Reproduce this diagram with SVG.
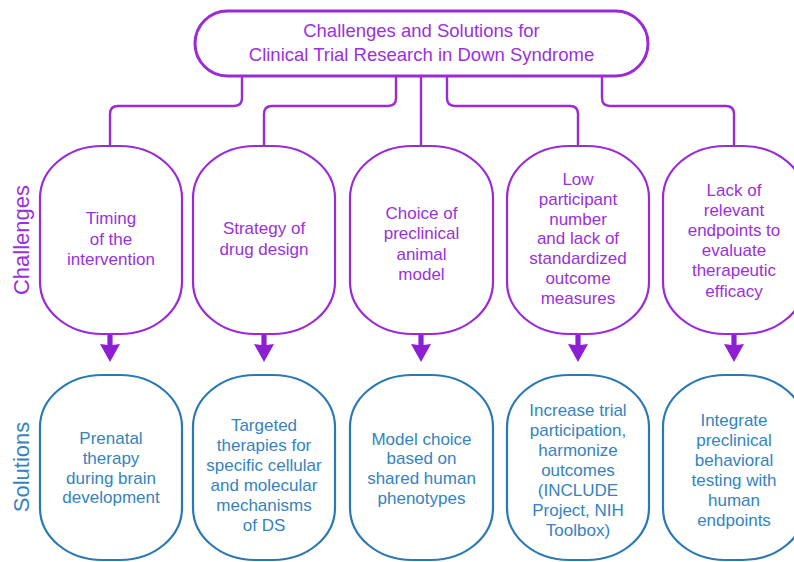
<svg xmlns="http://www.w3.org/2000/svg" width="794" height="562" viewBox="0 0 794 562">
<style>
.bg{fill:#ffffff}
.ch{fill:#ffffff;stroke:#9a2ad8;stroke-width:2.2}
.so{fill:#ffffff;stroke:#2a79b5;stroke-width:2.2}
.ttl{fill:#ffffff;stroke:#9a2ad8;stroke-width:3}
.conn{fill:none;stroke:#9a2ad8;stroke-width:2.4}
.arr{fill:#8c1fd1}
text{font-family:"Liberation Sans",Arial,Helvetica,sans-serif;text-anchor:middle}
.tc{fill:#9b30dc;font-size:17px}
.ts{fill:#3583c0;font-size:17px}
.tt{fill:#9b30dc;font-size:18.5px}
.lab{font-size:22px}
</style>
<defs>
<path id="arrow" d="M-2.6,0 H2.6 V12 L10,11 L0,29 L-10,11 L-2.6,12 Z"/>
</defs>
<rect class="bg" x="0" y="0" width="794" height="562"/>

<g id="connectors">
<path class="conn" d="M242,76 V98 Q242,106 234,106 H118 Q110,106 110,114 V146"/>
<path class="conn" d="M396,76 V98 Q396,106 388,106 H272 Q264,106 264,114 V146"/>
<path class="conn" d="M421,76 V146"/>
<path class="conn" d="M447,76 V98 Q447,106 455,106 H570 Q578,106 578,114 V146"/>
<path class="conn" d="M602,76 V98 Q602,106 610,106 H726 Q734,106 734,114 V146"/>
<use href="#arrow" class="arr" x="110" y="333"/>
<use href="#arrow" class="arr" x="264" y="333"/>
<use href="#arrow" class="arr" x="421" y="333"/>
<use href="#arrow" class="arr" x="578" y="333"/>
<use href="#arrow" class="arr" x="734" y="333"/>
</g>

<g id="title">
<rect class="ttl" x="195" y="11" width="453" height="65" rx="32.5" ry="32.5"/>
<text class="tt" x="421.5" y="37">Challenges and Solutions for</text>
<text class="tt" x="421.5" y="61">Clinical Trial Research in Down Syndrome</text>
</g>

<g id="label-challenges">
<text class="lab" fill="#9b30dc" transform="translate(29,240) rotate(-90)">Challenges</text>
</g>
<g id="label-solutions">
<text class="lab" fill="#3583c0" transform="translate(29,467) rotate(-90)">Solutions</text>
</g>

<g id="challenge1">
<rect class="ch" x="40" y="146" width="142" height="188" rx="62" ry="52"/>
<text class="tc" x="111" y="224">Timing</text>
<text class="tc" x="111" y="244.5">of the</text>
<text class="tc" x="111" y="265">intervention</text>
</g>
<g id="challenge2">
<rect class="ch" x="193" y="146" width="142" height="188" rx="62" ry="52"/>
<text class="tc" x="264" y="234">Strategy of</text>
<text class="tc" x="264" y="255">drug design</text>
</g>
<g id="challenge3">
<rect class="ch" x="350" y="146" width="143" height="188" rx="62" ry="52"/>
<text class="tc" x="421.5" y="219">Choice of</text>
<text class="tc" x="421.5" y="239.3">preclinical</text>
<text class="tc" x="421.5" y="259.6">animal</text>
<text class="tc" x="421.5" y="280">model</text>
</g>
<g id="challenge4">
<rect class="ch" x="507" y="146" width="142" height="188" rx="62" ry="52"/>
<text class="tc" x="578" y="185">Low</text>
<text class="tc" x="578" y="204.8">participant</text>
<text class="tc" x="578" y="224.6">number</text>
<text class="tc" x="578" y="244.4">and lack of</text>
<text class="tc" x="578" y="264.2">standardized</text>
<text class="tc" x="578" y="284">outcome</text>
<text class="tc" x="578" y="303.8">measures</text>
</g>
<g id="challenge5">
<rect class="ch" x="663" y="146" width="142" height="188" rx="62" ry="52"/>
<text class="tc" x="734" y="195.5">Lack of</text>
<text class="tc" x="734" y="215.7">relevant</text>
<text class="tc" x="734" y="235.9">endpoints to</text>
<text class="tc" x="734" y="256.1">evaluate</text>
<text class="tc" x="734" y="276.3">therapeutic</text>
<text class="tc" x="734" y="296.5">efficacy</text>
</g>

<g id="solution1">
<rect class="so" x="40" y="375" width="142" height="185" rx="62" ry="52"/>
<text class="ts" x="111" y="444">Prenatal</text>
<text class="ts" x="111" y="463.8">therapy</text>
<text class="ts" x="111" y="483.6">during brain</text>
<text class="ts" x="111" y="503.4">development</text>
</g>
<g id="solution2">
<rect class="so" x="193" y="375" width="142" height="185" rx="62" ry="52"/>
<text class="ts" x="264" y="431">Targeted</text>
<text class="ts" x="264" y="451">therapies for</text>
<text class="ts" x="264" y="471">specific cellular</text>
<text class="ts" x="264" y="491">and molecular</text>
<text class="ts" x="264" y="511">mechanisms</text>
<text class="ts" x="264" y="531">of DS</text>
</g>
<g id="solution3">
<rect class="so" x="350" y="375" width="143" height="185" rx="62" ry="52"/>
<text class="ts" x="421.5" y="444.5">Model choice</text>
<text class="ts" x="421.5" y="464.3">based on</text>
<text class="ts" x="421.5" y="484.1">shared human</text>
<text class="ts" x="421.5" y="503.9">phenotypes</text>
</g>
<g id="solution4">
<rect class="so" x="507" y="375" width="142" height="185" rx="62" ry="52"/>
<text class="ts" x="578" y="415.5">Increase trial</text>
<text class="ts" x="578" y="435.5">participation,</text>
<text class="ts" x="578" y="455.5">harmonize</text>
<text class="ts" x="578" y="475.5">outcomes</text>
<text class="ts" x="578" y="495.5">(INCLUDE</text>
<text class="ts" x="578" y="515.5">Project, NIH</text>
<text class="ts" x="578" y="535.5">Toolbox)</text>
</g>
<g id="solution5">
<rect class="so" x="663" y="375" width="142" height="185" rx="62" ry="52"/>
<text class="ts" x="734" y="425.5">Integrate</text>
<text class="ts" x="734" y="445.6">preclinical</text>
<text class="ts" x="734" y="465.7">behavioral</text>
<text class="ts" x="734" y="485.8">testing with</text>
<text class="ts" x="734" y="505.9">human</text>
<text class="ts" x="734" y="526">endpoints</text>
</g>
</svg>
